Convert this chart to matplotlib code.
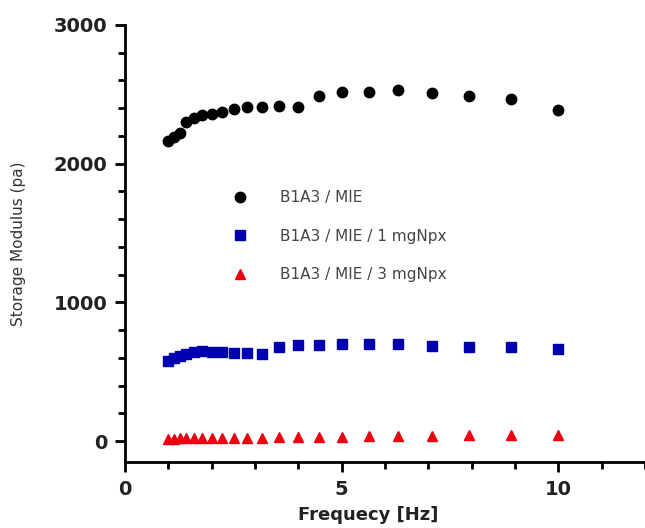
import numpy as np
import matplotlib.pyplot as plt
from matplotlib.ticker import MultipleLocator

# frequency sweep (Hz), log spaced
freq = [1.0, 1.12, 1.26, 1.41, 1.58, 1.78, 2.0, 2.24, 2.51, 2.82, 3.16,
        3.55, 3.98, 4.47, 5.01, 5.62, 6.31, 7.08, 7.94, 8.91, 10.0]

# storage modulus (pa)
g_mie = [2163, 2190, 2220, 2300, 2325, 2350, 2360, 2375, 2395, 2405, 2410,
         2415, 2410, 2487, 2516, 2516, 2530, 2509, 2487, 2466, 2386]
g_mie_1np = [580, 595, 615, 630, 645, 650, 645, 640, 637, 635, 627,
             678, 692, 692, 697, 699, 699, 685, 678, 678, 663]
g_mie_3np = [18, 18, 19, 20, 20, 21, 21, 22, 23, 24, 25,
             27, 28, 30, 32, 34, 36, 38, 40, 42, 44]

labels = ['B1A3 / MIE', 'B1A3 / MIE / 1 mgNpx', 'B1A3 / MIE / 3 mgNpx']

fig = plt.figure(figsize=(6.45, 5.28), dpi=100)
ax = fig.add_axes([0.194, 0.125, 0.806, 0.828])

ax.plot(freq, g_mie, 'o', color='black', ms=7.5, label=labels[0])
ax.plot(freq, g_mie_1np, 's', color='#0000b0', ms=6.5, label=labels[1])
ax.plot(freq, g_mie_3np, '^', color='#ee0010', ms=7, label=labels[2])

ax.set_xlim(0, 12)
ax.set_ylim(-151, 3000)

for side in ['top', 'right']:
    ax.spines[side].set_visible(False)
for side in ['left', 'bottom']:
    ax.spines[side].set_linewidth(2.0)

ax.xaxis.set_major_locator(MultipleLocator(5))
ax.xaxis.set_minor_locator(MultipleLocator(1))
ax.yaxis.set_major_locator(MultipleLocator(1000))
ax.yaxis.set_minor_locator(MultipleLocator(200))
ax.tick_params(which='major', length=7, width=2, labelsize=14, pad=6)
ax.tick_params(which='minor', length=5, width=2)
for lab in ax.get_xticklabels() + ax.get_yticklabels():
    lab.set_fontweight('bold')
    lab.set_color('#222222')

ax.set_xlabel('Frequecy [Hz]', fontsize=13, fontweight='bold', color='#222222')
ax.xaxis.set_label_coords(0.467, -0.1)
ax.set_ylabel('Storage Modulus (pa)', fontsize=11, color='#333333', labelpad=20)

ax.legend(frameon=False, loc='upper left', fontsize=11, labelcolor='#444444',
          bbox_to_anchor=(225 / 645, (528 - 190) / 528), bbox_transform=fig.transFigure,
          borderpad=0, borderaxespad=0, handlelength=2, handletextpad=1.6,
          labelspacing=1.55)

fig.savefig('out.png', dpi=100)
